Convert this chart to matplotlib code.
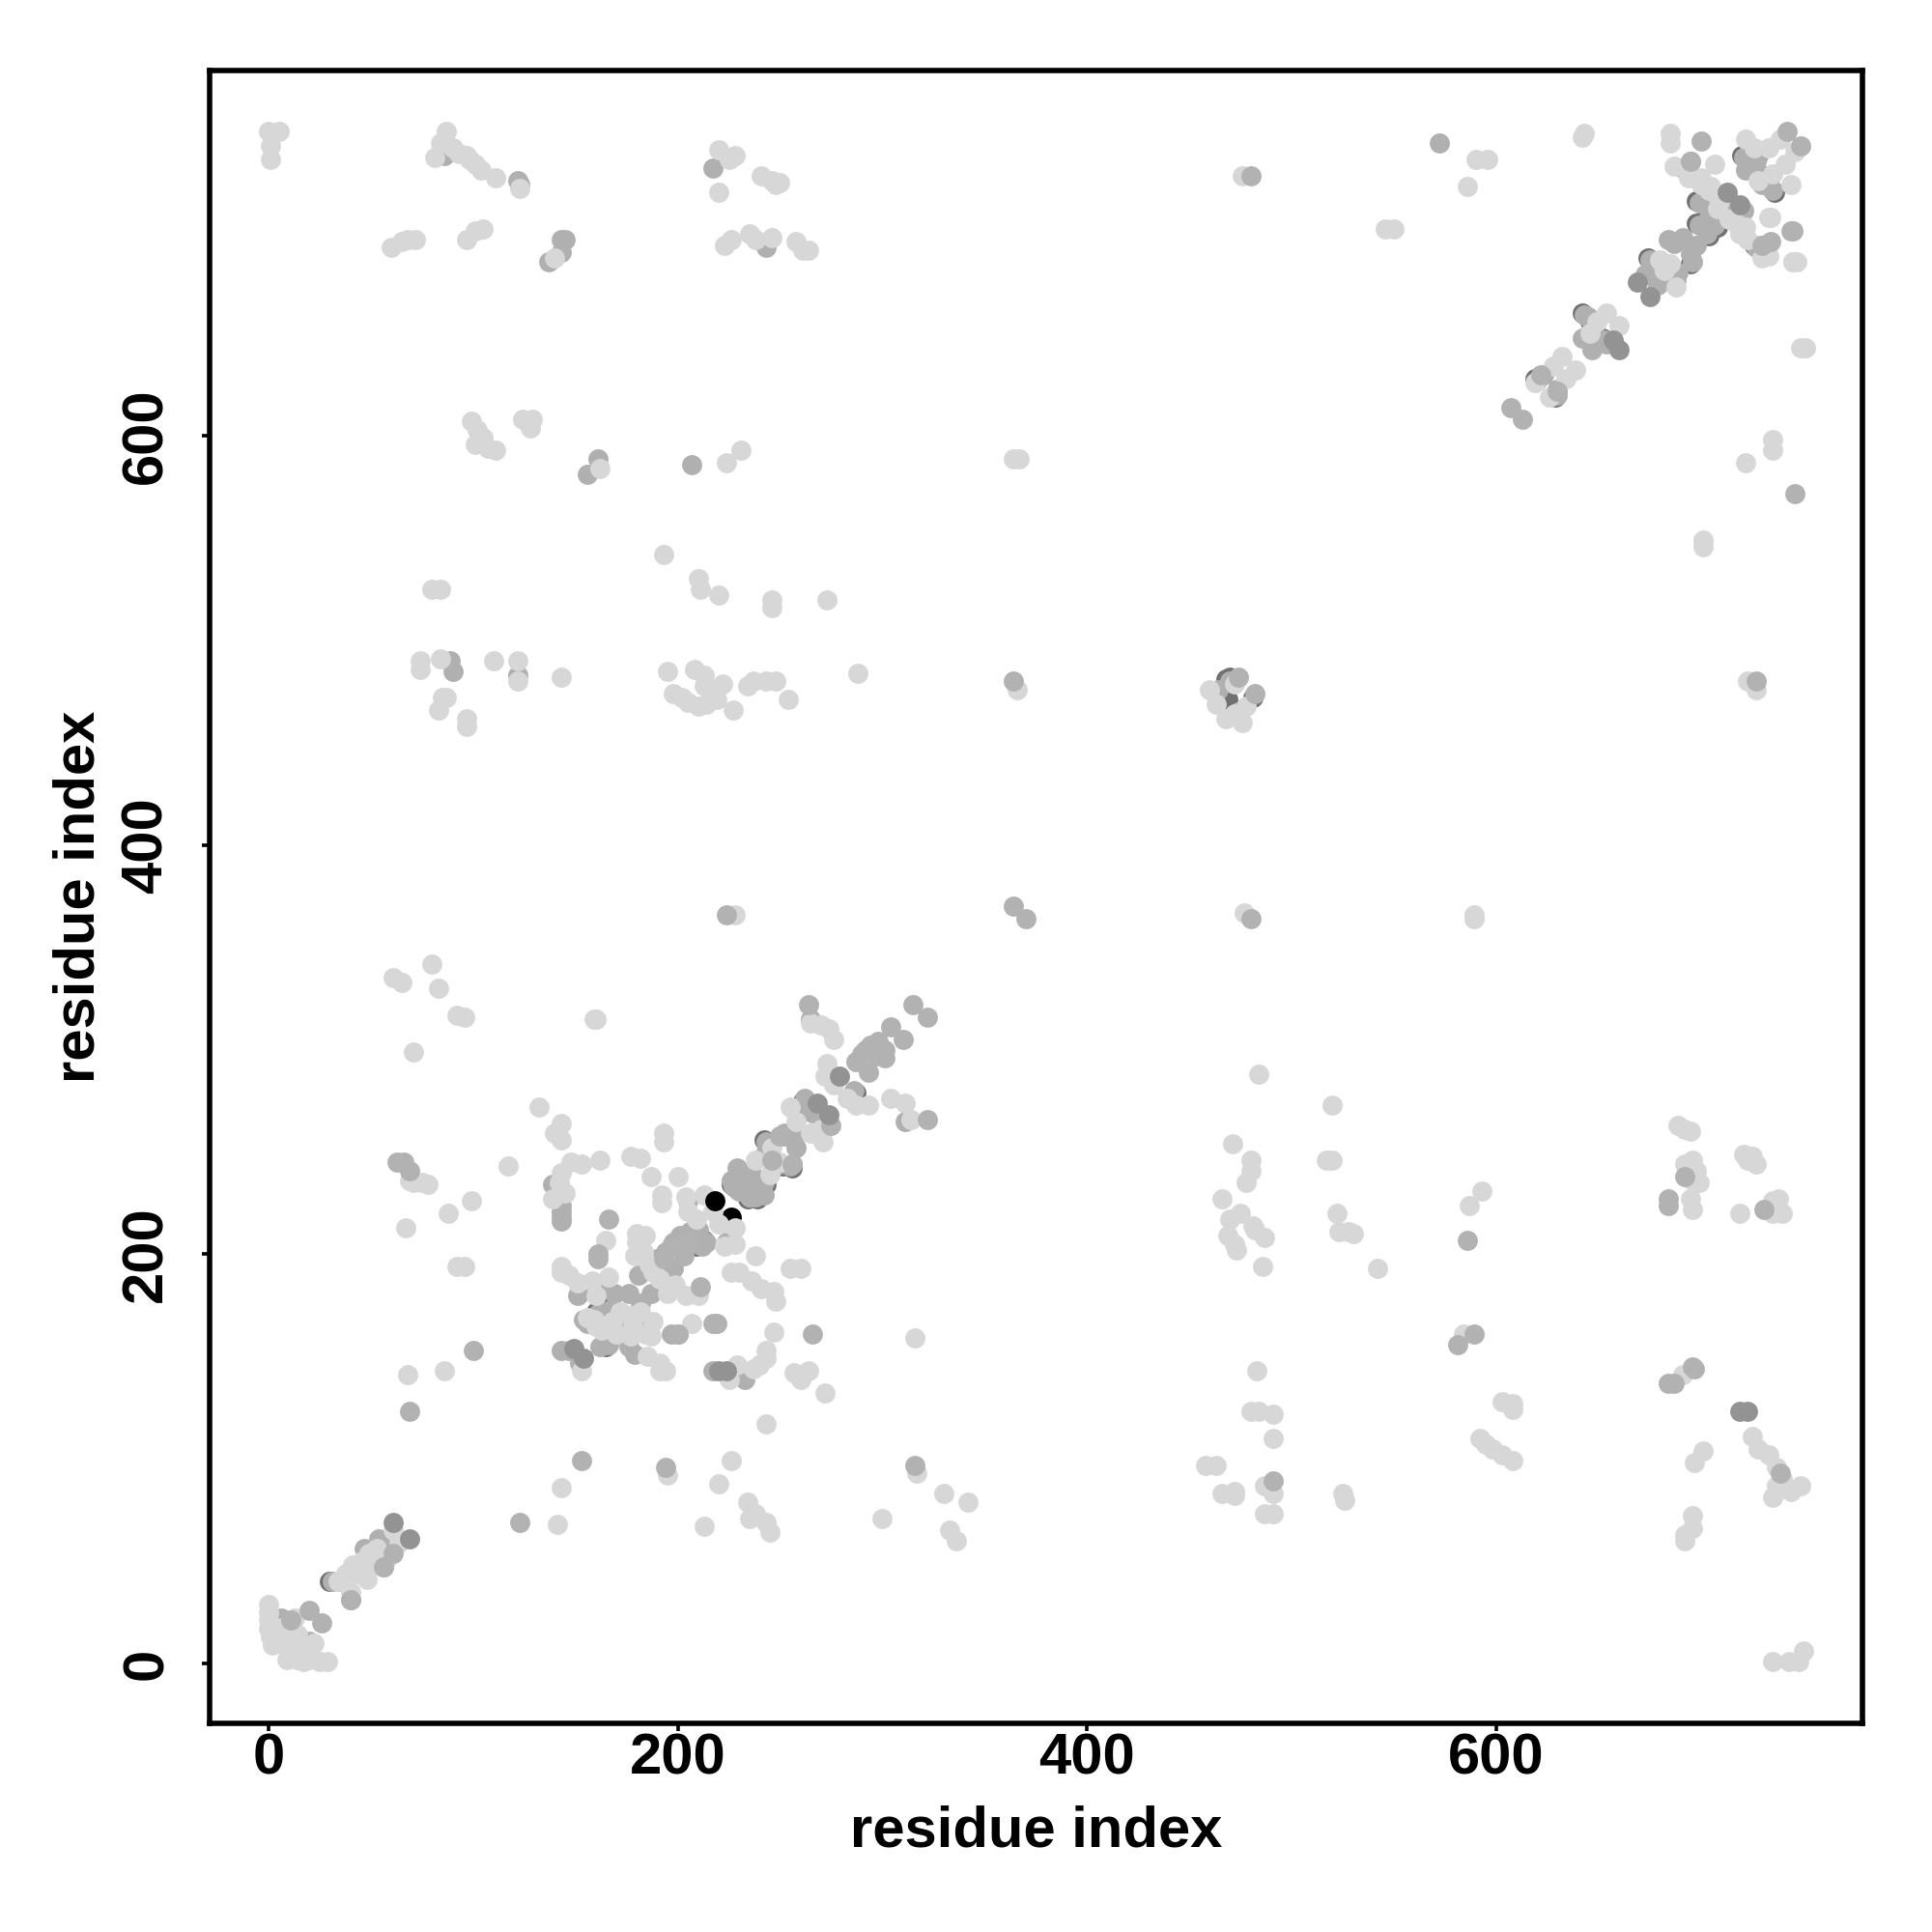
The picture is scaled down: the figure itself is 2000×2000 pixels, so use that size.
#!/usr/bin/python3
# contact map, points grouped by grey level (x residue, y residue)
import numpy as np
import matplotlib
matplotlib.use('Agg')
import matplotlib.pyplot as plt

plt.rcParams['font.family'] = ['Liberation Sans', 'DejaVu Sans']

# thin dark rims that show behind the lighter points
rim_dark = [(30,40),(55,58),(160,172),(162,173),(166,174),(169,165),(172,166),(163,168),(165,155),
            (162,184),(226,234),(234,227),(239,227),(229,232),(236,239),(243,234),(242,256),
            (256,242),(251,243),(264,271),(265,270),(261,275),(287,279),(209,213),(209,204),(206,210),
            (213,207),(470,482),(481,472),(468,481),(469,471),(474,464),
            (698,704),(703,708),(708,702),(704,698),(695,684),(688,679),(687,675),(674,687),(726,693),
            (714,715),(698,715),(720,737),(736,719),(727,738),(733,725),
            (619,628),(629,619),(642,660),(646,656),(652,648)]

rim_mid = [(6,22),(20,11),(20,7),(35,40),(40,31),(47,56),(54,61),(56,47),(143,153),(151,180),(154,185),
           (156,166),(162,155),(179,151),(176,155),(183,167),(166,157),(154,168),
           (226,236),(229,242),(233,239),(235,228),(241,230),(242,229),(238,232),(234,232),(231,237),
           (256,244),(252,258),(258,252),(243,250),(262,276),(252,259),(258,259),(206,211),(201,209),(198,206),
           (194,201),(198,193),(190,198),(181,190),(187,181),(182,176),(176,181),(169,181),(212,204),
           (205,226),(224,206),(143,224),(143,221),(143,218),(143,216),(139,234),(147,153),(152,147),
           (200,161),(197,161),(233,139),(217,143),(311,265),(265,315),
           (721,710),(730,693),(691,731),(695,734),(691,697),(687,694),(698,693),(695,689),(684,696),
           (673,679),(679,674),(727,734),(722,730),(732,727),(730,723),(623,630),(645,658),(642,648),(647,642),
           (654,645),(630,623),(470,480),(474,465),(464,476),
           (572,743),(137,685),(123,723),(89,490),(90,485),(122,483),(143,690),(145,696),(143,696),(243,692),
           (217,731),(86,737),(122,725),(156,581),(161,589),(207,586),
           (699,703),(704,707),(707,703),(703,699),(696,685),(689,680),(688,676),(675,686),(727,692),
           (715,714),(699,714),(721,736),(735,720),(728,737),(732,726),
           (161,171),(163,172),(167,173),(170,166),(173,167),(164,167),(166,156),(163,183),(227,233),
           (235,228),(238,228),(230,231),(237,238),(242,235),(243,255),(255,243),(250,244),(265,270),
           (266,269),(262,274),(286,280),(210,212),(210,205),(207,209),(214,206),(620,627),(630,620),
           (643,659),(647,655),(653,647),(31,40),(56,57)]

light = [(0,29),(0,25),(0,21),(0,17),(1,13),(2,9),(9,2),(17,1),(25,1),(29,1),(13,22),(7,12),(15,6),(22,10),(10,14),
         (5,10),(10,6),(14,2),(20,2),(8,18),(14,14),(5,17),(18,4),
         (41,48),(48,41),(34,40),(40,35),(49,54),(57,50),(61,65),(64,59),(45,45),
         (44,44),(50,50),(52,48),(38,44),(46,50),(53,56),
         (143,194),(143,191),(147,190),(151,186),(158,187),(166,189),(160,180),(156,169),(159,168),(170,161),
         (177,160),(184,161),(188,167),(187,160),(185,150),(191,147),(191,143),(194,143),(178,165),(182,172),
         (163,163),(172,172),(177,170),(168,167),(160,165),
         (204,228),(213,229),(205,221),(209,217),(217,221),(220,215),(228,213),(228,205),(223,204),
         (180,206),(184,209),(180,210),(179,199),(186,195),(191,188),(199,185),(204,180),(210,180),(195,181),
         (188,191),(183,201),(238,246),(245,239),(246,252),(250,245),(255,272),(258,265),(265,259),(271,255),
         (270,261),(273,293),(272,287),(276,283),(283,276),(287,273),(293,273),
         (265,313),(270,312),(274,310),(276,305),(304,276),(311,274),(314,266),
         (143,264),(140,259),(143,256),(148,245),(153,244),(143,240),(142,235),(145,230),(139,227),
         (117,243),(132,272),(162,246),(160,315),(177,248),(182,247),(187,238),(192,229),(192,225),(193,259),
         (193,255),(200,238),(165,207),(207,166),(238,199),(226,191),(230,191),(236,187),(241,183),(247,182),
         (248,177),(255,193),(260,193),(247,162),(316,159),(229,146),(225,139),(237,144),(240,146),(243,153),
         (243,149),(257,142),(260,139),(264,143),(272,132),(243,117),(143,86),(141,68),(195,92),(226,99),(220,88),
         (213,67),(234,79),(235,71),(238,73),(243,69),(245,64),(317,93),(330,83),(300,71),(333,65),
         (336,60),(342,79),(86,143),(68,141),(153,143),
         (0,749),(5,749),(1,742),(1,735),(87,749),(84,743),(81,736),(90,741),(93,738),(97,737),
         (98,735),(101,733),(104,730),(111,726),(123,721),(220,740),(225,735),(228,737),(220,719),
         (241,727),(246,725),(250,724),(248,723),(476,727),(60,692),(65,695),(68,696),(72,696),
         (97,696),(101,700),(105,701),(140,687),(223,693),(226,696),(235,699),(238,696),(246,697),
         (258,695),(261,691),(264,691),(546,701),(550,701),(590,735),(596,735),(586,722),(643,748),
         (642,746),(99,607),(102,603),(105,599),(107,594),(111,593),(101,596),(124,608),(129,608),
         (128,604),(162,584),(224,587),(231,593),(193,542),(210,530),(211,525),(220,522),(246,520),
         (246,516),(273,520),(288,484),(80,525),(84,525),(74,490),(74,486),(84,491),(110,490),
         (122,490),(122,480),(143,482),(85,472),(83,466),(87,472),(97,462),(97,458),(195,485),
         (208,486),(213,483),(213,478),(222,479),(198,474),(202,472),(205,470),(210,468),(214,469),
         (219,471),(227,466),(234,478),(237,480),(243,480),(248,480),(254,471),(366,476),(723,480),
         (727,476),(364,589),(367,589),(722,587),(735,598),(735,593),(701,549),(701,546),(749,643),
         (751,643),(228,366),(477,367),(589,366),(589,364),(61,335),(65,333),(80,342),(83,330),
         (92,317),(96,316),(71,299),(159,315),(69,236),(71,235),
         (75,235),(78,234),(99,226),(88,220),(67,213),(92,194),(96,194),(484,288),(520,273),(471,254),(480,246),
         (480,241),(478,235),(466,227),(517,246),(520,246),(522,220),(523,211),(528,211),(530,210),(542,193),(475,220),
         (470,217),(481,214),(469,209),(473,202),(486,194),(487,208),(482,212),(472,205),(587,224),
         (593,231),(584,161),(483,143),(480,123),(484,123),(491,122),(491,110),(458,97),(463,97),
         (466,83),(472,84),(472,82),(487,87),(491,83),(487,73),(491,73),(525,83),(526,80),(603,128),
         (608,127),(608,124),(592,110),(595,107),(598,105),(603,102),(608,99),(691,141),(725,111),
         (728,105),(733,102),(737,96),(740,90),(737,87),(735,81),(744,84),(749,87),(701,104),(697,98),
         (696,72),(696,66),(692,63),(692,60),(735,1),(743,1),(748,1),(750,6),(689,263),(692,261),
         (695,260),(692,244),(696,246),(698,241),(696,236),(699,235),(695,227),(696,222),(719,220),
         (721,249),(725,248),(727,244),(723,246),(735,226),(738,227),(740,220),(735,220),
         (460,476),(463,469),(468,462),(476,460),(472,464),(472,479),(478,468),
         (632,639),(628,634),(639,632),(634,628),(626,619),(619,626),(654,660),(649,656),(660,654),(646,650),
         (685,748),(685,743),(707,733),(687,732),(694,726),(700,723),(705,722),(704,720),(709,715),(708,711),
         (717,704),(722,702),(719,699),(723,696),(733,688),(730,687),(745,685),(747,685),(733,707),
         (680,686),(688,673),(682,681),(685,684),(722,745),(726,741),(733,741),(741,733),(744,723),(739,745),
         (746,739),(735,728),(728,725),(734,707),(745,685),(700,726),(714,706)]

top_mid = [(20,26),(26,20),(11,21),(40,31),(56,47),(61,54),(166,217),(161,200),(161,198),(217,166),(219,166),
           (200,161),(266,161),(153,99),(123,69),(194,96),(100,153),(69,123),(63,245),(66,245),(69,241),(316,97),
           (256,244),(275,263),(211,184),(264,322),(315,322),(322,316),(322,266),(304,311),(310,305),(294,302),
           (298,304),(301,296),(287,294),(293,289),(290,298),(301,300),(297,297),(292,300),
           (224,366),(364,370),(370,364),(480,364),(586,207),(581,156),(589,161),(491,89),(684,137),(687,137),
           (696,145),(697,144),(739,93),(692,238),(684,227),(684,224),(731,222),(746,572),(364,480),(727,480),
           (480,727),(700,744),(744,700),(742,749),(749,742),(745,700),(734,695),(730,693),
           (607,614),(613,608),(622,630),(630,622),(474,482),(482,474),(695,734),
           (197,204),(203,199),(193,198),(206,207),(250,258),(246,246)]
top_dark = [(61,69),(69,61),(149,154),(154,149),(220,143),(224,143),(268,274),(274,268),(279,287),
            (713,719),(719,713),(657,647),(660,642),(669,675),(675,668),(719,123),(723,123)]
black_under = [(226,218)]
black_over = [(218,226)]

xticks = [0, 200, 400, 600]
yticks = [0, 200, 400, 600]
xlim = (-29, 779)
ylim = (-29.3, 778.6)

# drawn back to front
layers = [(rim_dark, '#707070'), (rim_mid, '#b0b0b0'), (black_under, '#000000'), (light, '#d7d7d7'),
          (top_mid, '#b2b2b2'), (top_dark, '#939393'), (black_over, '#000000')]

fig = plt.figure(figsize=(20, 20), dpi=100)
ax = fig.add_axes([216.5/2000, 1-1784/2000, (1928-216.5)/2000, (1784-73)/2000])

for pts, col in layers:
    x, y = np.array(pts).T
    ax.scatter(x, y, s=225, c=col, linewidths=0, zorder=3)

ax.set_xlim(xlim)
ax.set_ylim(ylim)
ax.set_xticks(xticks)
ax.set_yticks(yticks)
ax.set_yticklabels([str(t) for t in yticks], rotation=90, va='center')

for s in ax.spines.values():
    s.set_linewidth(4.0)
ax.tick_params(axis='both', length=5.5, width=2.6, labelsize=43)
ax.tick_params(axis='x', pad=1)
ax.tick_params(axis='y', pad=21)
for t in ax.get_xticklabels() + ax.get_yticklabels():
    t.set_fontweight('bold')

ax.set_xlabel('residue index', fontsize=43, fontweight='bold', va='center')
ax.set_ylabel('residue index', fontsize=43, fontweight='bold', va='center')
ax.xaxis.set_label_coords(0.5, (1784-1896)/1711)
ax.yaxis.set_label_coords((82-216.5)/1711.5, 0.5)

fig.savefig('out.png', dpi=100)
